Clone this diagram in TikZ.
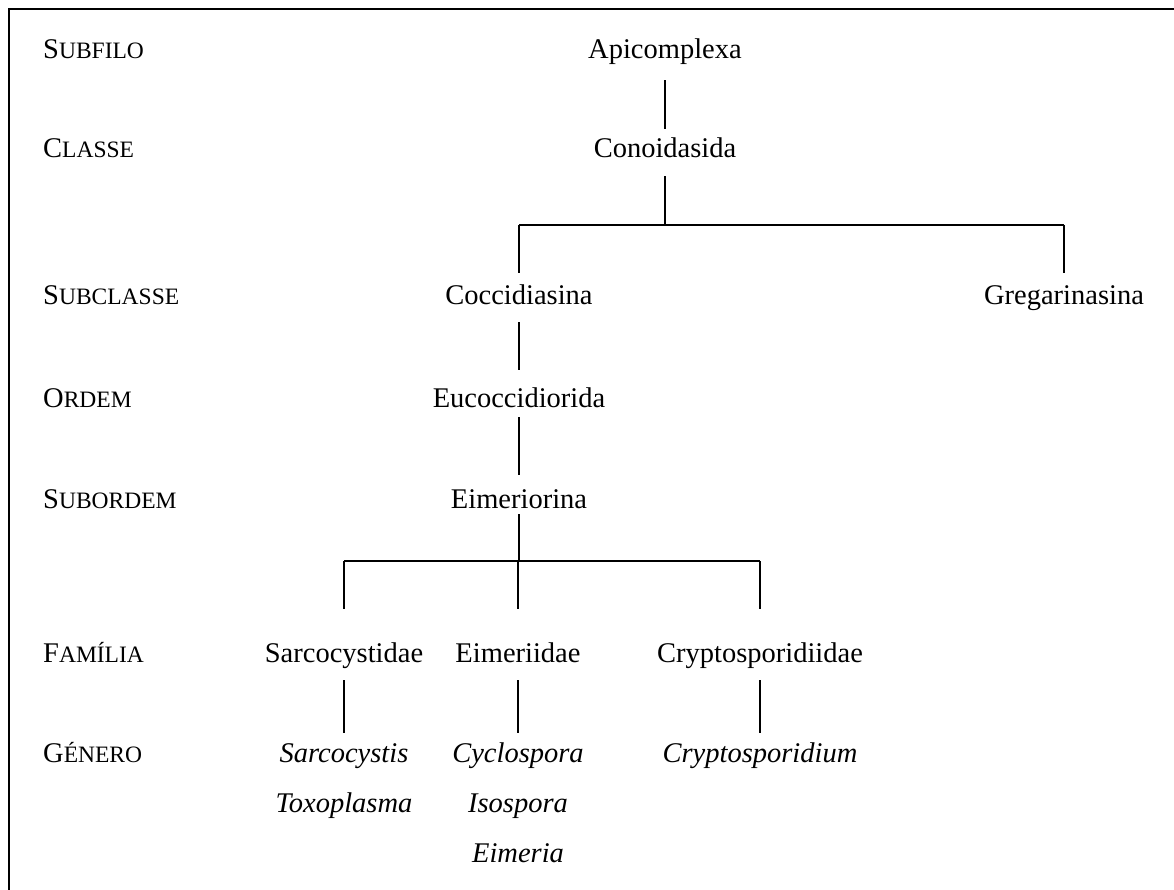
\documentclass[tikz,border=0pt]{standalone}
\usepackage{fontspec}
\setmainfont{Liberation Serif}
\newcommand\mysc[2]{#1{\fontsize{23.5}{24}\selectfont #2}}
\begin{document}
\begin{tikzpicture}[x=1pt,y=-1pt,
  txt/.style={font=\fontsize{28.5}{30}\selectfont, inner sep=0pt, anchor=base, text height=20pt, text depth=6pt},
  lbl/.style={font=\fontsize{28.5}{30}\selectfont, inner sep=0pt, anchor=base west},
  gen/.style={txt, font=\fontsize{28.5}{30}\selectfont\itshape},
  conn/.style={line width=1.4pt},
  frame/.style={line width=2.8pt}]
\useasboundingbox (0,0) rectangle (1174,890);
\fill[white] (0,0) rectangle (1174,890);
\draw[frame] (9,892) -- (9,9) -- (1176,9);

% rank labels
\node[lbl] (l1) at (43,59) {\mysc{S}{UBFILO}};
\node[lbl] (l2) at (43,158) {\mysc{C}{LASSE}};
\node[lbl] (l3) at (43,305) {\mysc{S}{UBCLASSE}};
\node[lbl] (l4) at (43,407) {\mysc{O}{RDEM}};
\node[lbl] (l5) at (43,508) {\mysc{S}{UBORDEM}};
\node[lbl] (l6) at (43,662) {\mysc{F}{AMÍLIA}};
\node[lbl] (l7) at (43,762) {\mysc{G}{ÉNERO}};

% taxa
\node[txt] (api) at (665,59) {Apicomplexa};
\node[txt] (con) at (665,158) {Conoidasida};
\node[txt] (coc) at (519,305) {Coccidiasina};
\node[txt] (gre) at (1064,305) {Gregarinasina};
\node[txt] (euc) at (519,407) {Eucoccidiorida};
\node[txt] (eim) at (519,508) {Eimeriorina};
\node[txt] (sar) at (344,662) {Sarcocystidae};
\node[txt] (eii) at (518,662) {Eimeriidae};
\node[txt] (cry) at (760,662) {Cryptosporidiidae};
\node[gen] (g1) at (344,762) {Sarcocystis};
\node[gen] (g2) at (344,812) {Toxoplasma};
\node[gen] (g3) at (518,762) {Cyclospora};
\node[gen] (g4) at (518,812) {Isospora};
\node[gen] (g5) at (518,862) {Eimeria};
\node[gen] (g6) at (760,762) {Cryptosporidium};

% junction coordinates
\coordinate (j1) at (665,225);
\coordinate (j2) at (519,561);

% connectors (y axis points down: negative yshift moves down)
\draw[conn] ([yshift=-15pt]api.south) -- ([yshift=9pt]con.north);
\draw[conn] ([yshift=-12pt]con.south) -- (j1);
\draw[conn] (j1 -| coc) -- (j1 -| gre);
\draw[conn] (j1 -| coc) -- ([yshift=12pt]coc.north);
\draw[conn] (j1 -| gre) -- ([yshift=12pt]gre.north);
\draw[conn] ([yshift=-11pt]coc.south) -- ([yshift=17pt]euc.north);
\draw[conn] ([yshift=-4pt]euc.south) -- ([yshift=13pt]eim.north);
\draw[conn] (eim.south) -- (j2);
\draw[conn] (j2 -| sar) -- (j2 -| cry);
\draw[conn] (j2 -| sar) -- ([yshift=33pt]sar.north);
\draw[conn] (j2 -| eii) -- ([yshift=33pt]eii.north);
\draw[conn] (j2 -| cry) -- ([yshift=33pt]cry.north);
\draw[conn] ([yshift=-12pt]sar.south) -- ([yshift=9pt]g1.north);
\draw[conn] ([yshift=-12pt]eii.south) -- ([yshift=9pt]g3.north);
\draw[conn] ([yshift=-12pt]cry.south) -- ([yshift=9pt]g6.north);
\end{tikzpicture}
\end{document}
